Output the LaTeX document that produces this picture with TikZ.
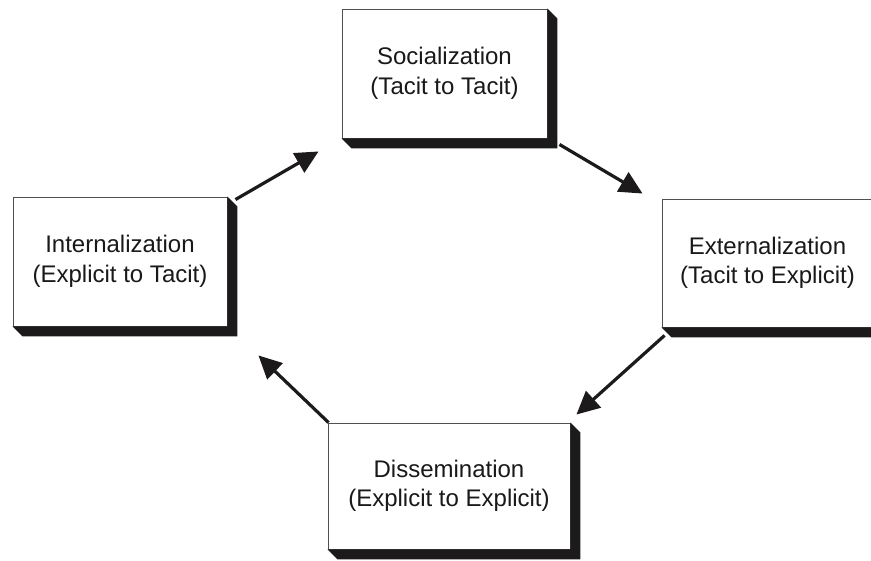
\documentclass[tikz,border=0pt]{standalone}
\usepackage{fontspec}
\setmainfont{Liberation Sans}
\usetikzlibrary{arrows.meta}
\definecolor{shadowc}{HTML}{1C1A1B}
\definecolor{borderc}{HTML}{505050}
\tikzset{
  stagebox/.style={draw=borderc, line width=0.9pt, fill=white, rectangle, inner sep=0pt,
    align=center, font=\fontsize{24}{29.5}\selectfont, text=black!90},
  flowarrow/.style={line width=3.2pt, draw=shadowc, -{Triangle[length=23pt,width=22pt]}, shorten >=0pt}
}
\newcommand{\boxshade}[1]{%
  \fill[shadowc] (#1.north east) -- ([shift={(10pt,-10pt)}]#1.north east)
    -- ([shift={(10pt,-10pt)}]#1.south east) -- ([shift={(10pt,-10pt)}]#1.south west)
    -- (#1.south west) -- (#1.south east) -- cycle;}
\begin{document}
\begin{tikzpicture}[x=1pt,y=-1pt]
\useasboundingbox (0,0) rectangle (871,561);
\node[stagebox, minimum width=205pt, minimum height=129pt] (soc) at (444.5,73.5) {Socialization\\(Tacit to Tacit)};
\node[stagebox, minimum width=214pt, minimum height=129pt] (int) at (120,261.5) {Internalization\\(Explicit to Tacit)};
\node[stagebox, minimum width=211pt, minimum height=128pt] (ext) at (767.5,263) {Externalization\\(Tacit to Explicit)};
\node[stagebox, minimum width=242pt, minimum height=126pt] (dis) at (449,486) {Dissemination\\(Explicit to Explicit)};
\boxshade{soc}
\boxshade{int}
\boxshade{ext}
\boxshade{dis}
\draw[flowarrow] ([shift={(8pt,-3pt)}]int.north east) -- ([shift={(-23pt,-13pt)}]soc.south west);
\draw[flowarrow] ([shift={(12pt,-6pt)}]soc.south east) -- ([shift={(-19pt,5pt)}]ext.north west);
\draw[flowarrow] ([shift={(3pt,-8pt)}]ext.south west) -- ([shift={(6pt,8pt)}]dis.north east);
\draw[flowarrow] ([shift={(1pt,0pt)}]dis.north west) -- ([shift={(31pt,-29pt)}]int.south east);
\end{tikzpicture}
\end{document}
